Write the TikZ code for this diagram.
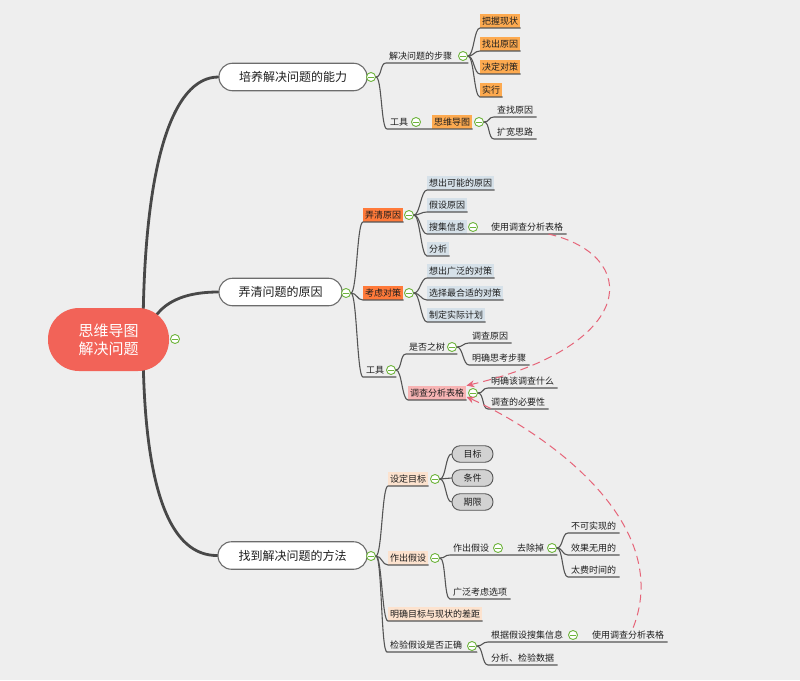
\documentclass[tikz,border=0pt]{standalone}
\usepackage{fontspec}
\setmainfont{Noto Sans CJK SC}
\usetikzlibrary{arrows.meta}
\definecolor{bgc}{RGB}{238,238,238}
\definecolor{rootf}{RGB}{242,99,88}
\definecolor{grn}{RGB}{110,180,60}
\definecolor{lnc}{RGB}{85,85,85}
\definecolor{thk}{RGB}{72,72,72}
\definecolor{org}{RGB}{253,170,80}
\definecolor{redo}{RGB}{255,122,58}
\definecolor{blu}{RGB}{214,225,233}
\definecolor{pnk}{RGB}{247,180,180}
\definecolor{pch}{RGB}{252,226,206}
\definecolor{pillf}{RGB}{210,210,210}
\definecolor{dsh}{RGB}{230,100,120}
\definecolor{txt}{RGB}{30,30,30}
\pgfdeclarelayer{backdrop}
\pgfdeclarelayer{behind}
\pgfsetlayers{backdrop,behind,main}
\begin{document}
\begin{tikzpicture}[x=1pt,y=-1pt,
  t/.style={font=\fontsize{9}{10}\selectfont, text height=7.9pt, text depth=1.1pt,
            inner xsep=3pt, inner ysep=2.5pt, anchor=south west, text=txt},
  box/.style={t, inner xsep=2pt, fill=#1},
  pill/.style={font=\fontsize{9}{10}\selectfont, text height=7.9pt, text depth=1.1pt,
            draw=lnc, line width=0.9pt, fill=pillf, rounded corners=8pt,
            minimum width=41pt, minimum height=16.5pt, inner sep=0pt, text=txt},
  mainn/.style={font=\fontsize{12}{14}\selectfont, draw=gray!85!black, line width=1.1pt,
            fill=white, rounded corners=13.5pt, minimum height=27.5pt, inner sep=0pt, text=txt},
  rootn/.style={font=\fontsize{15}{18}\selectfont, fill=rootf, text=white, align=center,
            rounded corners=31pt, minimum width=121pt, minimum height=63pt, inner sep=0pt},
  cb/.style={circle, draw=grn, fill=white, line width=0.9pt, minimum size=9pt, inner sep=0pt,
            path picture={\draw[grn,line width=0.9pt] ([xshift=-2.6pt]path picture bounding box.center) -- ([xshift=2.6pt]path picture bounding box.center);}},
  ln/.style={draw=lnc, line width=1.1pt, line cap=round},
  thkln/.style={draw=thk, line width=2.8pt, line cap=round},
  dline/.style={draw=dsh, line width=1pt, dash pattern=on 8pt off 5pt, -{Stealth[length=8pt,width=7pt]}},
  lk/.style={to path={.. controls ([xshift=#1]\tikztostart) and ([xshift=-#1]\tikztotarget) .. (\tikztotarget)}},
  lk/.default=6pt]

\begin{pgfonlayer}{backdrop}
\fill[bgc] (0,0) rectangle (800,680);
\end{pgfonlayer}
\useasboundingbox (0,0) rectangle (800,680);

% root and main nodes
\node[rootn] (root) at (108.5,339.5) {思维导图\\解决问题};
\node[cb] (rootc) at (175,339) {};
\node[mainn, minimum width=148pt] (m1) at (293,77) {培养解决问题的能力};
\node[cb] (m1c) at (371,77) {};
\node[mainn, minimum width=123pt] (m2) at (280.5,292) {弄清问题的原因};
\node[cb] (m2c) at (346,293) {};
\node[mainn, minimum width=149pt] (m3) at (292.5,555.5) {找到解决问题的方法};
\node[cb] (m3c) at (371,556) {};

\begin{pgfonlayer}{behind}
\draw[thkln] ([xshift=34.5pt]root.center) .. controls (143,165) and (172,77) .. (m1.west);
\draw[thkln] ([xshift=38pt]root.center) .. controls (152,305) and (180,292) .. (m2.west);
\draw[thkln] ([xshift=34.5pt]root.center) .. controls (143,495) and (172,556) .. (m3.west);
\end{pgfonlayer}

% branch 1
\node[t] (a1) at (386,63) {解决问题的步骤};
\node[cb] (a1c) at (463,56) {};
\node[box=org] (a11) at (480,28) {把握现状};
\node[box=org] (a12) at (480,51) {找出原因};
\node[box=org] (a13) at (480,74) {决定对策};
\node[box=org] (a14) at (480,97) {实行};
\node[t] (a2) at (387,129) {工具};
\node[cb] (a2c) at (416,122) {};
\node[box=org] (a21) at (432,129) {思维导图};
\node[cb] (a21c) at (479,122) {};
\node[t] (a211) at (494,117) {查找原因};
\node[t] (a212) at (494,139) {扩宽思路};

\draw[ln] (m1c.east) to[lk] (a1.south west) -- (a1.south west -| a1c.east);
\draw[ln] (a1c.east) to[lk] (a11.south west) -- (a11.south east);
\draw[ln] (a1c.east) to[lk] (a12.south west) -- (a12.south east);
\draw[ln] (a1c.east) to[lk] (a13.south west) -- (a13.south east);
\draw[ln] (a1c.east) to[lk] (a14.south west) -- (a14.south east);
\draw[ln] (m1c.east) to[lk] (a2.south west) -- (a21.south west) -- (a21.south east);
\draw[ln] (a21c.east) to[lk] (a211.south west) -- (a211.south east);
\draw[ln] (a21c.east) to[lk] (a212.south west) -- (a212.south east);

% branch 2
\node[box=redo] (b1) at (363,222) {弄清原因};
\node[cb] (b1c) at (409,215) {};
\node[box=blu] (b11) at (427,190) {想出可能的原因};
\node[box=blu] (b12) at (427,212) {假设原因};
\node[box=blu] (b13) at (427,234) {搜集信息};
\node[cb] (b13c) at (473,227) {};
\node[t] (b131) at (488,234) {使用调查分析表格};
\node[box=blu] (b14) at (427,256) {分析};
\node[box=redo] (b2) at (363,300) {考虑对策};
\node[cb] (b2c) at (409,293) {};
\node[box=blu] (b21) at (427,278) {想出广泛的对策};
\node[box=blu] (b22) at (427,300) {选择最合适的对策};
\node[box=blu] (b23) at (427,322) {制定实际计划};
\node[t] (b3) at (363,377) {工具};
\node[cb] (b3c) at (391,370) {};
\node[t] (b31) at (406,354) {是否之树};
\node[cb] (b31c) at (452,347) {};
\node[t] (b311) at (469,343) {调查原因};
\node[t] (b312) at (469,365) {明确思考步骤};
\node[box=pnk] (b32) at (408,400) {调查分析表格};
\node[cb] (b32c) at (473,393) {};
\node[t] (b321) at (488,388) {明确该调查什么};
\node[t] (b322) at (488,409) {调查的必要性};

\draw[ln] (m2c.east) to[lk] (b1.south west) -- (b1.south east);
\draw[ln] (m2c.east) to[lk] (b2.south west) -- (b2.south east);
\draw[ln] (m2c.east) to[lk] (b3.south west) -- (b3.south west -| b3c.east);
\draw[ln] (b1c.east) to[lk] (b11.south west) -- (b11.south east);
\draw[ln] (b1c.east) to[lk] (b12.south west) -- (b12.south east);
\draw[ln] (b1c.east) to[lk] (b13.south west) -- (b131.south west) -- (b131.south east);
\draw[ln] (b1c.east) to[lk] (b14.south west) -- (b14.south east);
\draw[ln] (b2c.east) to[lk] (b21.south west) -- (b21.south east);
\draw[ln] (b2c.east) to[lk] (b22.south west) -- (b22.south east);
\draw[ln] (b2c.east) to[lk] (b23.south west) -- (b23.south east);
\draw[ln] (b3c.east) to[lk] (b31.south west) -- (b31.south west -| b31c.east);
\draw[ln] (b3c.east) to[lk] (b32.south west) -- (b32.south east);
\draw[ln] (b31c.east) to[lk] (b311.south west) -- (b311.south east);
\draw[ln] (b31c.east) to[lk] (b312.south west) -- (b312.south east);
\draw[ln] (b32c.east) to[lk] (b321.south west) -- (b321.south east);
\draw[ln] (b32c.east) to[lk] (b322.south west) -- (b322.south east);

% branch 3
\node[box=pch] (c1) at (388,486) {设定目标};
\node[cb] (c1c) at (435,479) {};
\node[pill] (c11) at (472.5,454) {目标};
\node[pill] (c12) at (472.5,478) {条件};
\node[pill] (c13) at (472.5,502) {期限};
\node[box=pch] (c2) at (388,565) {作出假设};
\node[cb] (c2c) at (435,558) {};
\node[t] (c21) at (450,555) {作出假设};
\node[cb] (c21c) at (498,548) {};
\node[t] (c22) at (514,555) {去除掉};
\node[cb] (c22c) at (552,548) {};
\node[t] (c221) at (568,533) {不可实现的};
\node[t] (c222) at (568,555) {效果无用的};
\node[t] (c223) at (568,577) {太费时间的};
\node[t] (c23) at (450,599) {广泛考虑选项};
\node[box=pch] (c3) at (388,621) {明确目标与现状的差距};
\node[t] (c4) at (387,652) {检验假设是否正确};
\node[cb] (c4c) at (472,646) {};
\node[t] (c41) at (488,642) {根据假设搜集信息};
\node[cb] (c41c) at (573,635) {};
\node[t] (c42) at (589,642) {使用调查分析表格};
\node[t] (c43) at (488,665) {分析、检验数据};

\draw[ln] (m3c.east) to[lk] (c1.south west) -- (c1.south east);
\draw[ln] (m3c.east) to[lk] (c2.south west) -- (c2.south east);
\draw[ln] (m3c.east) to[lk] (c3.south west) -- (c3.south east);
\draw[ln] (m3c.east) to[lk] (c4.south west) -- (c4.south west -| c4c.east);
\draw[ln] (c1c.east) to[lk] (c11.west);
\draw[ln] (c1c.east) to[lk] (c12.west);
\draw[ln] (c1c.east) to[lk] (c13.west);
\draw[ln] (c2c.east) to[lk] (c21.south west) -- (c22.south west) -- (c22.south west -| c22c.east);
\draw[ln] (c2c.east) to[lk] (c23.south west) -- (c23.south east);
\draw[ln] (c22c.east) to[lk] (c221.south west) -- (c221.south east);
\draw[ln] (c22c.east) to[lk] (c222.south west) -- (c222.south east);
\draw[ln] (c22c.east) to[lk] (c223.south west) -- (c223.south east);
\draw[ln] (c4c.east) to[lk] (c41.south west) -- (c42.south west) -- (c42.south east);
\draw[ln] (c4c.east) to[lk] (c43.south west) -- (c43.south east);

% relationship arrows
\draw[dline] ([xshift=-18pt]b131.south east) .. controls (640,255) and (640,345) .. (b32.north east);
\draw[dline] ([xshift=5pt]c42.north) .. controls (675,520) and (540,430) .. ([yshift=-4pt]b32.east);
\end{tikzpicture}
\end{document}
